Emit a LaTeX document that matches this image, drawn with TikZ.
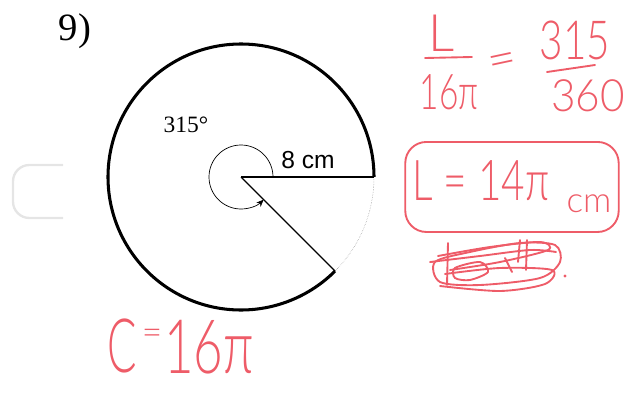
\documentclass[tikz,border=0pt]{standalone}
\usepackage{fontspec}
\setmainfont{Liberation Serif}
\newfontfamily\labelfont{Liberation Sans}
\IfFontExistsTF{Lato Light}{\newfontfamily\penfont{Lato Light}}{\newfontfamily\penfont{Fira Sans}}
\usetikzlibrary{arrows.meta, positioning, calc, fit}
\definecolor{pen}{RGB}{238,92,104}

\begin{document}
\begin{tikzpicture}[x=0.03cm, y=0.03cm,
    serif/.style={inner sep=0pt, font=\fontsize{20}{20}\selectfont},
    lbl/.style={inner sep=0pt, font=\labelfont\fontsize{21}{21}\selectfont},
    hand/.style={inner sep=0pt, text=pen, font=\penfont\fontsize{#1}{#1}\selectfont},
    hand/.default=34,
    ink/.style={draw=pen, line width=1.6pt, line cap=round, line join=round},
    rim/.style={line width=2.6pt},
    spoke/.style={line width=1.1pt},
    arr/.style={-{Stealth[length=2.2mm, width=1.8mm]}, semithick}]
  \useasboundingbox (0,0) rectangle (637,-393);
  \coordinate (O) at (241,-177);
  \coordinate (A) at ($(O)+(0:133)$);
  \coordinate (B) at ($(O)+(315:133)$);
  \coordinate (a) at ($(O)+(0:32)$);
  \draw[rim] (A) arc[start angle=0, end angle=315, radius=133];
  \draw[gray, densely dotted, thin] (B) arc[start angle=315, end angle=360, radius=133];
  \draw[spoke] (O) -- (A);
  \draw[spoke] (O) -- (B);
  \draw[arr] (a) arc[start angle=0, end angle=315, radius=32];
  \node[font=\fontsize{33}{33}\selectfont, inner sep=0pt] (num) at (75,-31) {9)};
  \node[serif] (ang) at (186,-125) {315°};
  \node[lbl] (rad) at (308,-160) {8 cm};
  \draw[gray!20, line width=2pt, rounded corners=14] (63,-165) -- (13,-165) -- (13,-218) -- (63,-218);
  \node[hand=44] (L) at (442,-33) {L};
  \draw[ink] (425,-58) -- (472,-57);
  \node[hand=42, xscale=0.68] (den1) at (449,-92) {16π};
  \node[hand=42, rotate=12] (eq1) at (503,-65) {=};
  \node[hand=46, xscale=0.75] (top2) at (575,-40) {315};
  \draw[ink] (547,-72) -- (595,-65);
  \node[hand=38, xscale=0.95] (den2) at (588,-96) {360};
  \node[hand=48, xscale=0.72] (res) at (481,-181) {L = 14π};
  \node[hand=30] (unit) at (589,-204) {cm};
  \node[ink, rounded corners=18, fit=(res)(unit), inner xsep=6, inner ysep=16] (box) {};
  \draw[ink] plot[smooth cycle] coordinates {(435,-262) (470,-252) (520,-243) (555,-245) (560,-262) (540,-278) (480,-285) (440,-282)};
  \draw[ink] plot[smooth] coordinates {(440,-286) (500,-291) (545,-284) (552,-270) (500,-268) (445,-274)};
  \draw[ink] plot[smooth] coordinates {(430,-262) (480,-256) (530,-250) (556,-252)};
  \draw[ink] plot[smooth] coordinates {(438,-256) (490,-247) (540,-242) (548,-250) (500,-262) (450,-270)};
  \draw[ink] plot[smooth cycle] coordinates {(455,-268) (480,-262) (488,-272) (470,-280) (455,-278)};
  \draw[ink] (448,-243) -- (447,-285);
  \draw[ink] (520,-240) -- (518,-262);
  \draw[ink] (527,-240) -- (526,-270);
  \draw[ink] (505,-258) -- (512,-272);
  \fill[pen] (565,-276) circle (1.6);
  \fill[pen] (432,-262) circle (1);
  \node[hand=64, xscale=0.58] (C) at (122,-346) {C};
  \node[hand=30] (eq2) at (152,-337) {=};
  \node[hand=64, xscale=0.68] (circ) at (209,-347) {16π};
\end{tikzpicture}
\end{document}
